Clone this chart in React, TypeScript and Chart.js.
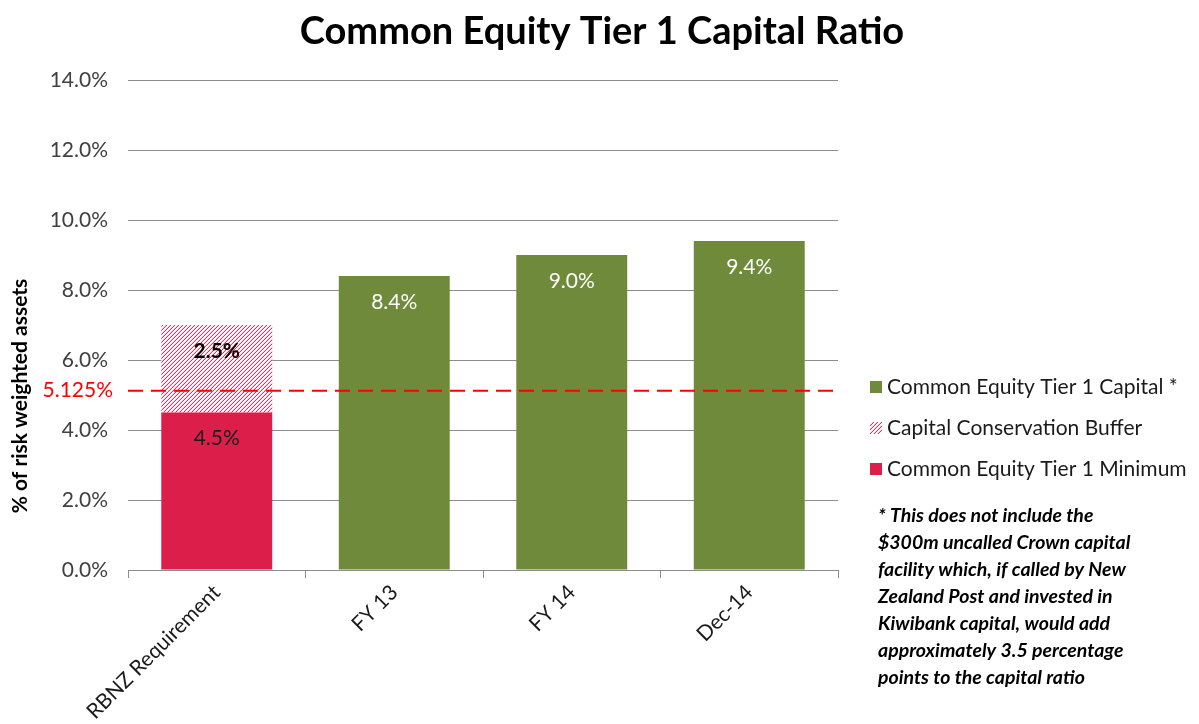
import React, { useEffect, useRef } from "react";
import { Chart, registerables } from "chart.js";

Chart.register(...registerables);

const categories = ["RBNZ Requirement", "FY 13", "FY 14", "Dec-14"];
const minimumValues = [4.5, null, null, null];
const bufferValues = [2.5, null, null, null];
const capitalValues = [null, 8.4, 9.0, 9.4];
const thresholdValue = 5.125;
const thresholdLabel = "5.125%";
const chartTitle = "Common Equity Tier 1 Capital Ratio";
const yAxisTitle = "% of risk weighted assets";
const legendLabels = [
  "Common Equity Tier 1 Capital *",
  "Capital Conservation Buffer",
  "Common Equity Tier 1 Minimum",
];
const footnoteLines = [
  "* This does not include the",
  "$300m uncalled Crown capital",
  "facility which, if called by New",
  "Zealand Post and invested in",
  "Kiwibank capital, would add",
  "approximately 3.5 percentage",
  "points to the capital ratio",
];

const RED = "#DC1E4B";
const GREEN = "#6E8A3A";
const FONT = "Lato, 'Open Sans', sans-serif";

function makeHatch(): CanvasPattern | string {
  const c = document.createElement("canvas");
  c.width = 4;
  c.height = 4;
  const g = c.getContext("2d");
  if (!g) return RED;
  g.fillStyle = "#ffffff";
  g.fillRect(0, 0, 4, 4);
  for (let px = 0; px < 4; px++) {
    for (let py = 0; py < 4; py++) {
      const k = (px + py) % 4;
      if (k === 3) {
        g.fillStyle = "#E8315C";
        g.fillRect(px, py, 1, 1);
      } else if (k === 2) {
        g.fillStyle = "#F8D2DB";
        g.fillRect(px, py, 1, 1);
      }
    }
  }
  const p = g.createPattern(c, "repeat");
  return p || RED;
}

export default function App() {
  const ref = useRef<HTMLCanvasElement>(null);

  useEffect(() => {
    if (!ref.current) return;
    const hatch = makeHatch();

    const overlay = {
      id: "overlay",
      afterDatasetsDraw(chart: any) {
        const ctx = chart.ctx;
        const y = chart.scales.y;
        const area = chart.chartArea;
        // threshold dashed line
        const ty = y.getPixelForValue(thresholdValue);
        ctx.save();
        ctx.strokeStyle = "#FF0000";
        ctx.lineWidth = 2;
        ctx.setLineDash([15, 8]);
        ctx.beginPath();
        ctx.moveTo(area.left, ty);
        ctx.lineTo(area.right, ty);
        ctx.stroke();
        ctx.setLineDash([]);
        ctx.fillStyle = "#FF0000";
        ctx.font = `21px ${FONT}`;
        ctx.textAlign = "right";
        ctx.textBaseline = "middle";
        ctx.fillText(thresholdLabel, 113, ty);

        // data labels
        chart.data.datasets.forEach((ds: any, di: number) => {
          const meta = chart.getDatasetMeta(di);
          meta.data.forEach((el: any, i: number) => {
            const v = ds.data[i];
            if (v === null || v === undefined) return;
            const txt = v.toFixed(1) + "%";
            if (di === 0) {
              ctx.fillStyle = "#1a1a1a";
              ctx.font = `21px ${FONT}`;
            } else if (di === 1) {
              ctx.fillStyle = "#000000";
              ctx.font = `bold 21px ${FONT}`;
            } else {
              ctx.fillStyle = "#ffffff";
              ctx.font = `21px ${FONT}`;
            }
            ctx.textAlign = "center";
            ctx.textBaseline = "middle";
            ctx.fillText(txt, el.x, el.y + 26);
          });
        });

        // title
        ctx.fillStyle = "#000000";
        ctx.font = `bold 38px ${FONT}`;
        ctx.textAlign = "center";
        ctx.textBaseline = "middle";
        ctx.fillText(chartTitle, 602, 32);

        // y axis title
        ctx.save();
        ctx.translate(20, 396);
        ctx.rotate(-Math.PI / 2);
        ctx.font = `bold 21px ${FONT}`;
        ctx.fillText(yAxisTitle, 0, 0);
        ctx.restore();

        // legend
        const fills = [GREEN, hatch, RED];
        legendLabels.forEach((lab, i) => {
          const ly = 387 + i * 41;
          ctx.fillStyle = fills[i] as any;
          ctx.fillRect(870, ly - 6, 12, 12);
          ctx.fillStyle = "#1a1a1a";
          ctx.font = `21px ${FONT}`;
          ctx.textAlign = "left";
          ctx.textBaseline = "middle";
          ctx.fillText(lab, 887, ly);
        });

        // footnote
        ctx.fillStyle = "#000000";
        ctx.font = `italic bold 19.5px ${FONT}`;
        ctx.textAlign = "left";
        ctx.textBaseline = "middle";
        footnoteLines.forEach((line, i) => {
          ctx.fillText(line, 878, 516 + i * 27);
        });
        ctx.restore();
      },
    };

    const chart = new Chart(ref.current, {
      type: "bar",
      data: {
        labels: categories,
        datasets: [
          {
            label: legendLabels[2],
            data: minimumValues,
            backgroundColor: RED,
            stack: "s",
          },
          {
            label: legendLabels[1],
            data: bufferValues,
            backgroundColor: hatch as any,
            stack: "s",
          },
          {
            label: legendLabels[0],
            data: capitalValues,
            backgroundColor: GREEN,
            stack: "s",
          },
        ],
      },
      options: {
        animation: false,
        responsive: true,
        maintainAspectRatio: false,
        layout: { padding: { left: 0, right: 361, top: 80, bottom: 0 } },
        plugins: {
          legend: { display: false },
          title: { display: false },
          tooltip: { enabled: false },
        },
        datasets: {
          bar: { categoryPercentage: 1, barPercentage: 0.625 },
        },
        scales: {
          x: {
            stacked: true,
            grid: {
              drawOnChartArea: false,
              drawTicks: true,
              tickLength: 8,
              color: "#8c8c8c",
              offset: true,
            },
            border: { display: true, color: "#8c8c8c" },
            ticks: {
              minRotation: 45,
              maxRotation: 45,
              color: "#1a1a1a",
              font: { family: FONT, size: 21 },
              padding: 2,
            },
            afterFit(scale: any) {
              scale.height = 154;
            },
          },
          y: {
            stacked: true,
            min: 0,
            max: 14,
            ticks: {
              stepSize: 2,
              color: "#404040",
              font: { family: FONT, size: 21 },
              padding: 20,
              callback: (v: any) => Number(v).toFixed(1) + "%",
            },
            grid: { color: "#8c8c8c", drawTicks: false },
            border: { display: false },
            afterFit(scale: any) {
              scale.width = 128;
            },
          },
        },
      },
      plugins: [overlay],
    });
    return () => chart.destroy();
  }, []);

  return (
    <div
      style={{
        position: "absolute",
        left: 0,
        top: 0,
        width: 1199,
        height: 724,
        background: "#fff",
      }}
    >
      <canvas ref={ref} />
    </div>
  );
}
